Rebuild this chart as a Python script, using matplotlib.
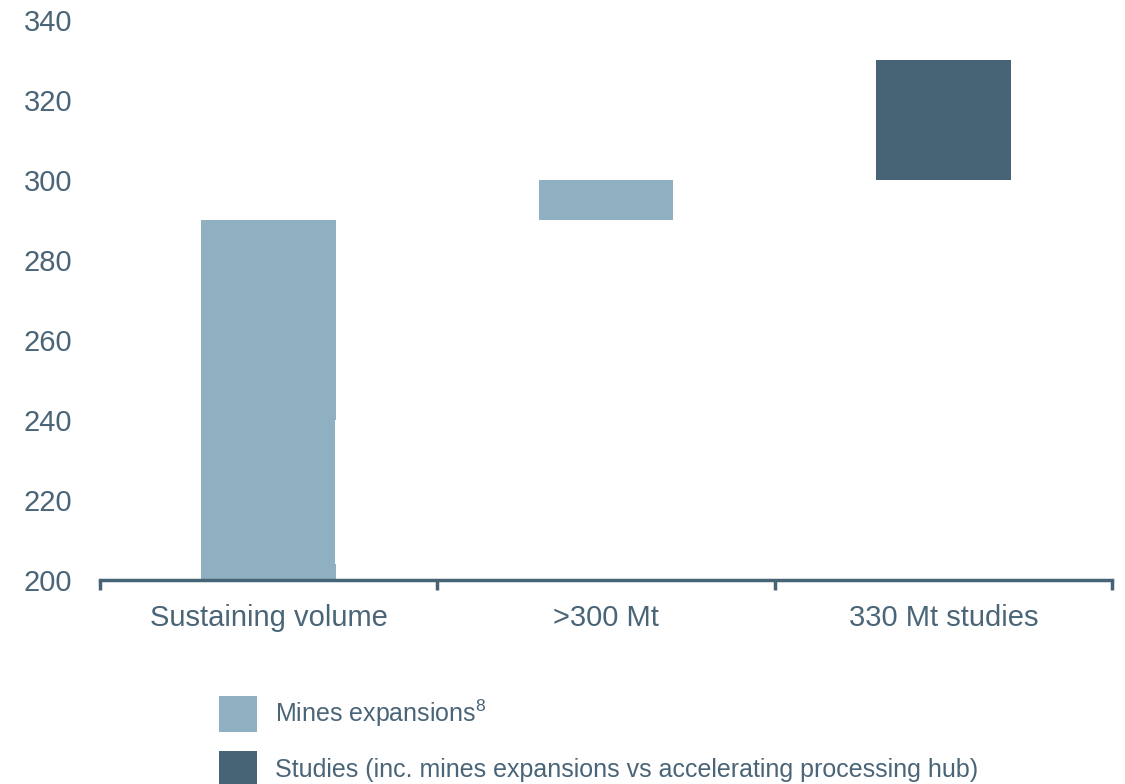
import matplotlib
matplotlib.use("Agg")
import matplotlib.pyplot as plt
from matplotlib.patches import Patch

plt.rcParams['font.family'] = ['Liberation Sans', 'DejaVu Sans']
plt.rcParams['mathtext.fontset'] = 'custom'
plt.rcParams['mathtext.rm'] = 'Liberation Sans'
plt.rcParams['mathtext.default'] = 'regular'

# Data (Mt)
categories = ['Sustaining volume', '>300 Mt', '330 Mt studies']
seg_cat = [0, 0, 0, 1, 2]
seg_bottom = [200, 204, 240, 290, 300]
seg_height = [4, 36, 50, 10, 30]
seg_kind = ['mines', 'mines', 'mines', 'mines', 'studies']
seg_width = [0.40, 0.397, 0.40, 0.40, 0.40]
y_ticks = [200, 220, 240, 260, 280, 300, 320, 340]

light = '#8fb0c0'
dark = '#476476'
text_col = '#4a6577'
colors = {'mines': light, 'studies': dark}

fig = plt.figure(figsize=(11.25, 7.84), dpi=100)
ax = fig.add_axes([100/1125, 1-580/784, 1012/1125, 560/784])

# segments share the left edge of their category's bar
for c, b, h, k, w in zip(seg_cat, seg_bottom, seg_height, seg_kind, seg_width):
    ax.bar(c - 0.2, h, bottom=b, width=w, color=colors[k], align='edge', linewidth=0)

ax.set_xlim(-0.5, len(categories) - 0.5)
ax.set_ylim(200, 340)

for s in ['top', 'right', 'left']:
    ax.spines[s].set_visible(False)
ax.spines['bottom'].set_color(dark)
ax.spines['bottom'].set_linewidth(2.5)

ax.set_xticks(range(len(categories)))
ax.set_xticklabels(categories, fontsize=21, color=text_col)
ax.tick_params(axis='x', which='major', length=0, pad=17)
ax.set_xticks([i - 0.5 for i in range(len(categories) + 1)], minor=True)
ax.tick_params(axis='x', which='minor', length=7, width=2.5, color=dark, direction='out')

ax.set_yticks(y_ticks)
ax.set_yticklabels([str(v) for v in y_ticks], fontsize=21, color=text_col)
ax.tick_params(axis='y', length=0, pad=20)

handles = [Patch(color=light, linewidth=0), Patch(color=dark, linewidth=0)]
labels = ['Mines expansions$^{8}$', 'Studies (inc. mines expansions vs accelerating processing hub)']
fig.legend(handles, labels, loc='upper left', bbox_to_anchor=(219/1125, 1-696/784),
           frameon=False, fontsize=18, handlelength=1.5, handleheight=1.85,
           handletextpad=0.75, labelspacing=0.76, borderpad=0, borderaxespad=0,
           labelcolor=text_col)

fig.savefig('out.png', dpi=100)
